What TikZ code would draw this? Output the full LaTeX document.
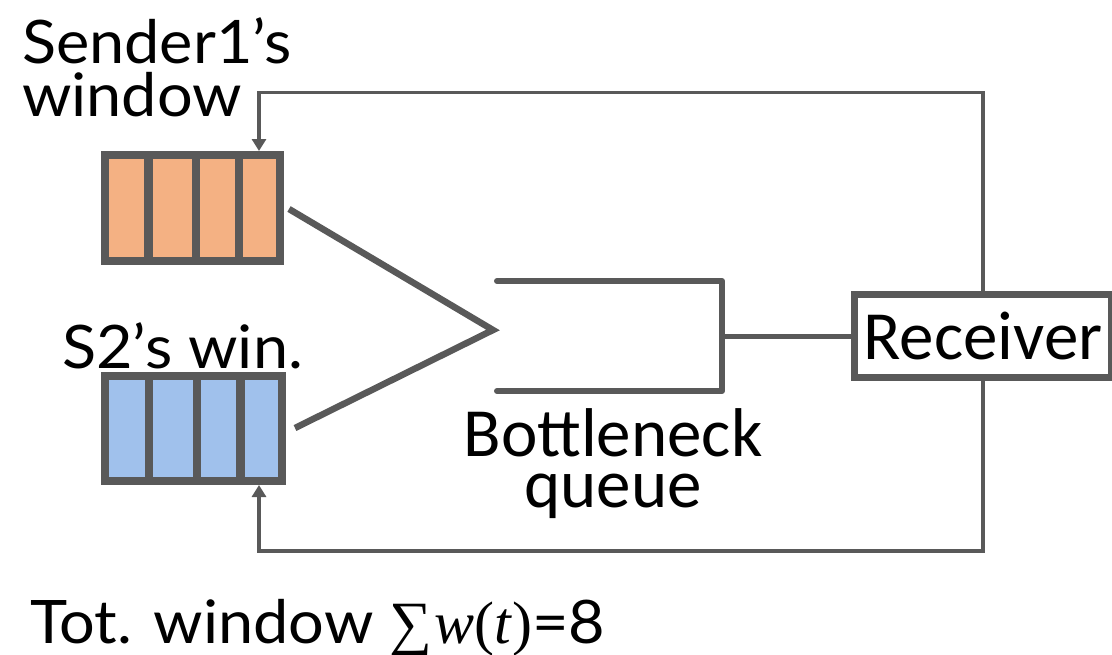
\documentclass[tikz,border=0pt]{standalone}
\usepackage{fontspec}
\setmainfont{Lato}[FakeStretch=1.05]
\newfontfamily\calfont{Carlito}
\newfontfamily\serfont{Liberation Serif}
\usetikzlibrary{arrows.meta,calc}
\definecolor{linegray}{HTML}{595959}
\definecolor{winorange}{HTML}{F4B183}
\definecolor{winblue}{HTML}{A0C1EC}
\begin{document}
\begin{tikzpicture}[x=1pt,y=-1pt,
  winbox/.style={draw=linegray,line width=8pt,inner sep=0pt,outer sep=auto},
  divider/.style={draw=linegray,line width=8.5pt},
  funnel/.style={draw=linegray,line width=6.5pt,line join=miter},
  queue/.style={draw=linegray,line width=6pt,line cap=round,line join=round},
  link/.style={draw=linegray,line width=5pt},
  fb/.style={draw=linegray,line width=3.5pt,-{Triangle[width=14pt,length=12pt]}},
  gill/.style={font=\fontsize{60}{64}\selectfont,inner sep=0pt},
  cal/.style={font=\calfont\fontsize{69}{72}\selectfont,inner sep=0pt}]
\useasboundingbox (0,0) rectangle (1112,654);

% sender windows
\node[winbox,fill=winorange,minimum width=175pt,minimum height=106pt] (w1) at (192.5,208) {};
\node[winbox,fill=winblue,minimum width=177pt,minimum height=105pt] (w2) at (193.5,428.5) {};
\foreach \f in {0.26,0.52,0.755}{
  \draw[divider] ($(w1.north west)!\f!(w1.north east)$) -- ($(w1.south west)!\f!(w1.south east)$);
  \draw[divider] ($(w2.north west)!\f!(w2.north east)$) -- ($(w2.south west)!\f!(w2.south east)$);
}

% labels
\node[gill,anchor=base west] (l1) at (22,63) {Sender1’s};
\node[gill,anchor=base west] (l2) at (22,116) {window};
\node[gill,anchor=base west] (l3) at (62,368) {S2’s win.};

% funnel into the bottleneck queue
\coordinate (f1) at (289,209);
\coordinate (f2) at (295,428);
\coordinate (tip) at (493,330);
\draw[funnel] (f1) -- (tip) -- (f2);

% bottleneck queue
\coordinate (qtl) at (497,281);
\coordinate (qtr) at (722,281);
\coordinate (qbr) at (722,391);
\coordinate (qbl) at (497,391);
\coordinate (qout) at (722,336);
\draw[queue] (qtl) -- (qtr) -- (qbr) -- (qbl);
\node[cal,anchor=base] (bq1) at (613,456) {Bottleneck};
\node[cal,anchor=base] (bq2) at (613,507) {queue};

% receiver
\node[draw=linegray,line width=7pt,minimum width=256.5pt,minimum height=83pt,inner sep=0pt,cal] (rcv) at (983,336) {Receiver};
\draw[link] (qout) -- (rcv.west);

% feedback paths to the senders
\coordinate (fbT) at (259,92.5);
\coordinate (fbB) at (259,551);
\draw[fb] (rcv.north) -- (rcv.north |- fbT) -- (fbT) -- (fbT |- w1.north);
\draw[fb] (rcv.south) -- (rcv.south |- fbB) -- (fbB) -- (fbB |- w2.south);

% total window
\node[gill,anchor=base west] (tot) at (30,643) {Tot. window {\serfont ∑\kern2pt\itshape w\/\upshape(\itshape t\/\upshape)}=8};
\end{tikzpicture}
\end{document}
